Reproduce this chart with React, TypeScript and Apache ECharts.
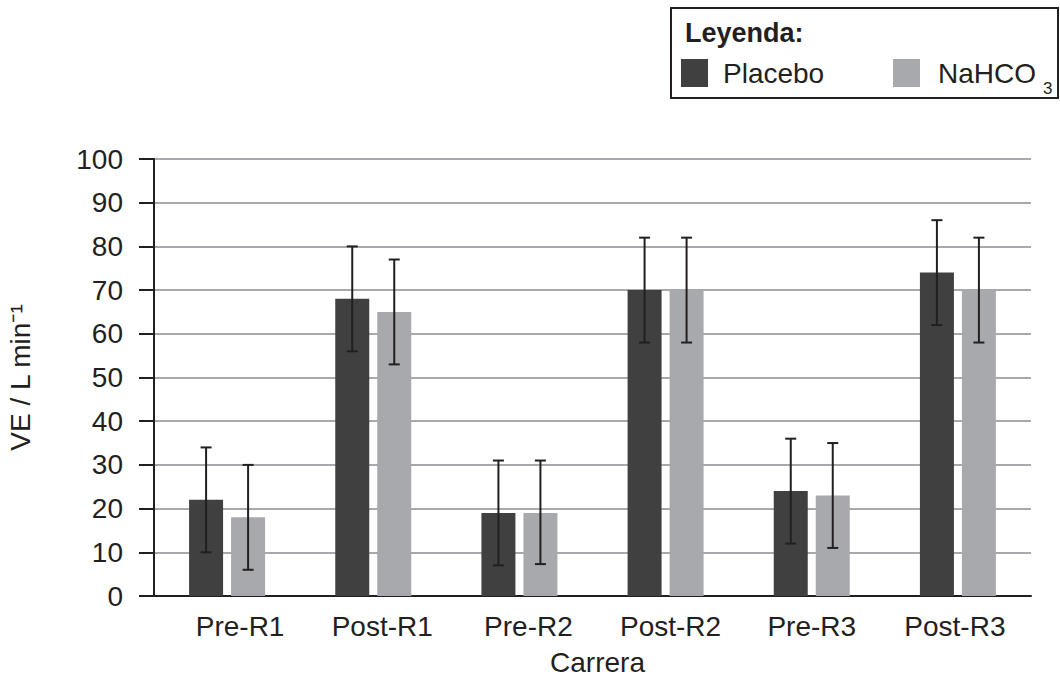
import React, { useEffect, useRef } from "react";
import * as echarts from "echarts";

const categories = ["Pre-R1", "Post-R1", "Pre-R2", "Post-R2", "Pre-R3", "Post-R3"];
const placebo = [22, 68, 19, 70, 24, 74];
const placeboLow = [10, 56, 7, 58, 12, 62];
const placeboHigh = [34, 80, 31, 82, 36, 86];
const nahco3 = [18, 65, 19, 70, 23, 70];
const nahco3Low = [6, 53, 7.3, 58, 11, 58];
const nahco3High = [30, 77, 31, 82, 35, 82];
const yTicks = { min: 0, max: 100, interval: 10 };

// horizontal nudges of the category labels (px), as in the reference
const labelNudge = [13, 9, 9, 5, 0, -3];

const FONT = "Liberation Sans, Arial, sans-serif";
const DARK = "#404041";
const LIGHT = "#a7a9ac";
const INK = "#231f20";
const BAR_W = 34;
const BAR_GAP = 8;
const FS = 28;

export default function App() {
  const ref = useRef<HTMLDivElement>(null);
  useEffect(() => {
    if (!ref.current) return;
    const chart = echarts.init(ref.current, null, { renderer: "svg" });
    const offset = (BAR_W + BAR_GAP) / 2;
    const errSeries = (low: number[], high: number[], dir: number) => ({
      type: "custom",
      z: 10,
      data: categories.map((_, i) => [i, low[i], high[i]]),
      renderItem: (params: any, api: any) => {
        const i = api.value(0);
        const lo = api.coord([i, api.value(1)]);
        const hi = api.coord([i, api.value(2)]);
        const x = lo[0] + dir * offset;
        const cap = 5.5;
        const style = { stroke: INK, lineWidth: 2 };
        return {
          type: "group",
          children: [
            { type: "line", shape: { x1: x, y1: lo[1], x2: x, y2: hi[1] }, style },
            { type: "line", shape: { x1: x - cap, y1: lo[1], x2: x + cap, y2: lo[1] }, style },
            { type: "line", shape: { x1: x - cap, y1: hi[1], x2: x + cap, y2: hi[1] }, style },
          ],
        };
      },
    });
    const rich: Record<string, any> = {};
    labelNudge.forEach((n, i) => {
      rich["s" + i] = {
        fontSize: FS,
        color: INK,
        fontFamily: FONT,
        padding: n >= 0 ? [0, 0, 0, 2 * n] : [0, -2 * n, 0, 0],
      };
    });
    chart.setOption({
      animation: false,
      grid: {
        left: 154,
        right: 29,
        top: 159,
        bottom: 81,
        containLabel: false,
        outerBoundsMode: "none",
      },
      xAxis: {
        type: "category",
        data: categories,
        name: "Carrera",
        nameLocation: "middle",
        nameGap: 54,
        nameTextStyle: {
          fontSize: FS,
          lineHeight: 24,
          color: INK,
          fontFamily: FONT,
          padding: [0, 0, 0, 10],
        },
        axisLine: { lineStyle: { color: INK, width: 2 } },
        axisTick: { show: false },
        axisLabel: {
          interval: 0,
          hideOverlap: false,
          fontSize: FS,
          color: INK,
          fontFamily: FONT,
          margin: 16,
          formatter: (v: string, i: number) => `{s${i}|${v}}`,
          rich,
        },
      },
      yAxis: {
        type: "value",
        min: yTicks.min,
        max: yTicks.max,
        interval: yTicks.interval,
        name: "VE / L min⁻¹",
        nameLocation: "middle",
        nameRotate: 90,
        nameGap: 120,
        nameTextStyle: { fontSize: FS, color: INK, fontFamily: FONT },
        axisLine: { show: true, lineStyle: { color: INK, width: 2 } },
        axisTick: { show: true, length: 15, lineStyle: { color: INK, width: 2 } },
        axisLabel: { fontSize: FS, color: INK, fontFamily: FONT, margin: 31 },
        splitLine: { lineStyle: { color: LIGHT, width: 2 } },
      },
      series: [
        {
          type: "bar",
          name: "Placebo",
          data: placebo,
          barWidth: BAR_W,
          barGap: `${(BAR_GAP / BAR_W) * 100}%`,
          itemStyle: { color: DARK },
        },
        {
          type: "bar",
          name: "NaHCO3",
          data: nahco3,
          barWidth: BAR_W,
          itemStyle: { color: LIGHT },
        },
        errSeries(placeboLow, placeboHigh, -1),
        errSeries(nahco3Low, nahco3High, 1),
      ],
      graphic: [
        {
          type: "rect",
          shape: { x: 671, y: 8, width: 387, height: 90 },
          style: { fill: "#fff", stroke: INK, lineWidth: 2 },
        },
        {
          type: "text",
          x: 685,
          y: 33,
          style: {
            text: "Leyenda:",
            fontSize: 27,
            fontWeight: "bold",
            fill: INK,
            fontFamily: FONT,
            textVerticalAlign: "middle",
          },
        },
        { type: "rect", shape: { x: 681, y: 59, width: 27, height: 28 }, style: { fill: DARK } },
        {
          type: "text",
          x: 723,
          y: 73,
          style: { text: "Placebo", fontSize: FS, fill: INK, fontFamily: FONT, textVerticalAlign: "middle" },
        },
        { type: "rect", shape: { x: 893, y: 59, width: 27, height: 28 }, style: { fill: LIGHT } },
        {
          type: "text",
          x: 938,
          y: 73,
          style: { text: "NaHCO", fontSize: FS, fill: INK, fontFamily: FONT, textVerticalAlign: "middle" },
        },
        {
          type: "text",
          x: 1043,
          y: 88,
          style: { text: "3", fontSize: 17, fill: INK, fontFamily: FONT, textVerticalAlign: "middle" },
        },
      ],
    });
    return () => chart.dispose();
  }, []);
  return <div ref={ref} style={{ width: 1060, height: 677, position: "absolute", left: 0, top: 0 }} />;
}
